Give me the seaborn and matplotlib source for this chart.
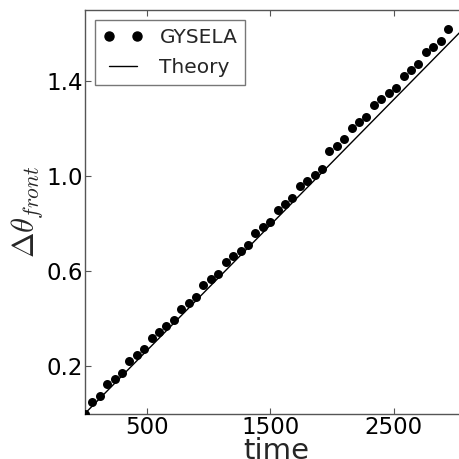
import matplotlib
matplotlib.use("Agg")
import matplotlib.pyplot as plt
import seaborn as sns
import pandas as pd
from matplotlib.lines import Line2D

# data
gysela_time = [0, 60, 120, 180, 240, 300, 360, 420, 480, 540,
               600, 660, 720, 780, 840, 900, 960, 1020, 1080, 1140,
               1200, 1260, 1320, 1380, 1440, 1500, 1560, 1620, 1680, 1740,
               1800, 1860, 1920, 1980, 2040, 2100, 2160, 2220, 2280, 2340,
               2400, 2460, 2520, 2580, 2640, 2700, 2760, 2820, 2880, 2940]
gysela_value = [0.0, 0.050, 0.075, 0.124, 0.147, 0.172, 0.221, 0.245, 0.270, 0.319,
                0.343, 0.368, 0.394, 0.441, 0.467, 0.491, 0.540, 0.565, 0.589, 0.638,
                0.663, 0.687, 0.712, 0.760, 0.785, 0.809, 0.858, 0.884, 0.909, 0.958,
                0.982, 1.006, 1.031, 1.105, 1.128, 1.155, 1.203, 1.227, 1.251, 1.300,
                1.326, 1.349, 1.373, 1.424, 1.448, 1.473, 1.522, 1.546, 1.571, 1.620]
theory_time = [0, 3100]
theory_value = [0.0, 1.64]

x_ticks = [500, 1500, 2500]
y_ticks = [0.2, 0.6, 1.0, 1.4]

sns.set_style("white")
plt.rcParams['font.family'] = ['DejaVu Sans']
plt.rcParams['mathtext.fontset'] = 'cm'

df_g = pd.DataFrame({"time": gysela_time, "val": gysela_value})
df_t = pd.DataFrame({"time": theory_time, "val": theory_value})

fig = plt.figure(figsize=(4.59, 4.59), dpi=100)
ax = fig.add_axes([0.185, 0.099, 0.834, 0.879])

sns.lineplot(data=df_t, x="time", y="val", ax=ax, color="black", lw=1.0)
sns.scatterplot(data=df_g, x="time", y="val", ax=ax, color="black", s=42,
                edgecolor="black", linewidth=0, zorder=3)

ax.set_xlim(0, 3100)
ax.set_ylim(0, 1.7)
ax.set_xticks(x_ticks)
ax.set_xticklabels([str(v) for v in x_ticks])
ax.set_yticks(y_ticks)
ax.set_yticklabels([f"{v:.1f}" for v in y_ticks])

for s in ax.spines.values():
    s.set_color("#555555")
    s.set_linewidth(1.0)
ax.tick_params(direction="in", length=4, width=0.8, colors="#555555",
               labelcolor="black", labelsize=16.5, top=True, right=True,
               bottom=True, left=True, pad=1.5)

ax.set_xlabel("time", fontsize=21, labelpad=-1)
ax.set_ylabel(r"$\Delta\theta_{front}$", fontsize=22, labelpad=1)

handles = [Line2D([0], [0], ls="none", marker="o", color="black", markersize=6.5),
           Line2D([0], [0], color="black", lw=1.0)]
leg = ax.legend(handles, ["GYSELA", "Theory"], loc="upper left", numpoints=2,
                fontsize=14.5, frameon=True, fancybox=False, borderaxespad=0.5,
                handlelength=2.0, handletextpad=0.8, borderpad=0.4,
                labelspacing=0.55)
leg.get_frame().set_edgecolor("#555555")
leg.get_frame().set_linewidth(1.0)

fig.savefig("out.png", dpi=100)
